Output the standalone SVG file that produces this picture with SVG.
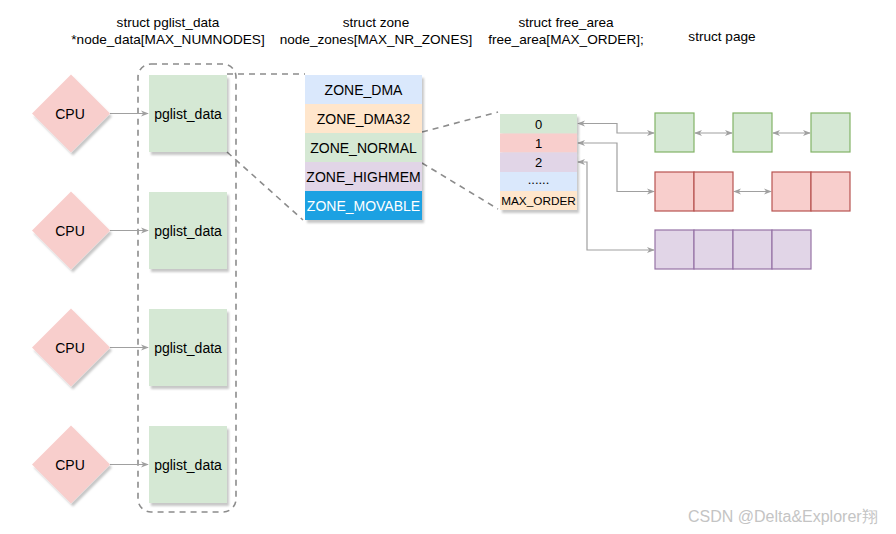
<svg xmlns="http://www.w3.org/2000/svg" width="896" height="534" viewBox="0 0 896 534">
<style>
text{font-family:"Liberation Sans",Arial,sans-serif;fill:#000;}
.t{font-size:13.6px;text-anchor:middle;}
.lbl{font-size:14px;text-anchor:middle;dominant-baseline:central;}
.sm{font-size:13px;text-anchor:middle;dominant-baseline:central;}
.cpu{fill:#f8cecc;stroke:none;}
.pg{fill:#d5e8d4;stroke:none;}
.dash{fill:none;stroke:#8c8c8c;stroke-width:1.6;stroke-dasharray:6 5;}
.conn{fill:none;stroke:#a0a0a0;stroke-width:1.2;}
.g{fill:#d5e8d4;stroke:#82b366;stroke-width:1.2;}
.r{fill:#f8cecc;stroke:#b85450;stroke-width:1.2;}
.p{fill:#e1d5e7;stroke:#9673a6;stroke-width:1.2;}
</style>
<defs>
<filter id="sh" x="-20%" y="-20%" width="140%" height="140%">
<feDropShadow dx="2" dy="3" stdDeviation="1" flood-color="#000" flood-opacity="0.22"/>
</filter>
<marker id="ah" viewBox="0 0 10 10" refX="9" refY="5" markerWidth="8" markerHeight="8" orient="auto-start-reverse" markerUnits="userSpaceOnUse">
<path d="M0,1 L10,5 L0,9 L3,5 z" fill="#a0a0a0"/>
</marker>
</defs>
<rect width="896" height="534" fill="#fff"/>

<g id="titles">
<text class="t" x="168" y="27">struct pglist_data</text>
<text class="t" x="168" y="44">*node_data[MAX_NUMNODES]</text>
<text class="t" x="376" y="27">struct zone</text>
<text class="t" x="376" y="44">node_zones[MAX_NR_ZONES]</text>
<text class="t" x="566" y="27">struct free_area</text>
<text class="t" x="566" y="44">free_area[MAX_ORDER];</text>
<text class="t" x="722" y="41">struct page</text>
</g>

<g id="container">
<rect class="dash" x="138" y="64" width="98" height="448" rx="13" ry="13"/>
</g>

<g id="connectors">
<line class="conn" x1="110" y1="113.5" x2="148" y2="113.5" marker-end="url(#ah)"/>
<line class="conn" x1="110" y1="230.5" x2="148" y2="230.5" marker-end="url(#ah)"/>
<line class="conn" x1="110" y1="347.5" x2="148" y2="347.5" marker-end="url(#ah)"/>
<line class="conn" x1="110" y1="464.5" x2="148" y2="464.5" marker-end="url(#ah)"/>
<line class="dash" x1="227" y1="74" x2="305" y2="74"/>
<line class="dash" x1="227" y1="152" x2="303" y2="220"/>
<line class="dash" x1="422" y1="132" x2="498" y2="112"/>
<line class="dash" x1="422" y1="163" x2="498" y2="209"/>
<path class="conn" d="M578,123.5 H617 V133 H654" marker-start="url(#ah)" marker-end="url(#ah)"/>
<path class="conn" d="M578,143 H617 V191.5 H654" marker-start="url(#ah)" marker-end="url(#ah)"/>
<path class="conn" d="M578,162 H587 V250 H654" marker-start="url(#ah)" marker-end="url(#ah)"/>
<line class="conn" x1="695" y1="133" x2="732" y2="133" marker-start="url(#ah)" marker-end="url(#ah)"/>
<line class="conn" x1="773" y1="133" x2="810" y2="133" marker-start="url(#ah)" marker-end="url(#ah)"/>
<line class="conn" x1="734" y1="191.5" x2="771" y2="191.5" marker-start="url(#ah)" marker-end="url(#ah)"/>
</g>

<g id="cpu1"><path class="cpu" filter="url(#sh)" d="M71,74.5 L110,113.5 L71,152.5 L32,113.5 z"/><text class="lbl" x="70" y="113.5">CPU</text></g>
<g id="cpu2"><path class="cpu" filter="url(#sh)" d="M71,191.5 L110,230.5 L71,269.5 L32,230.5 z"/><text class="lbl" x="70" y="230.5">CPU</text></g>
<g id="cpu3"><path class="cpu" filter="url(#sh)" d="M71,308.5 L110,347.5 L71,386.5 L32,347.5 z"/><text class="lbl" x="70" y="347.5">CPU</text></g>
<g id="cpu4"><path class="cpu" filter="url(#sh)" d="M71,425.5 L110,464.5 L71,503.5 L32,464.5 z"/><text class="lbl" x="70" y="464.5">CPU</text></g>

<g id="pglist1"><rect class="pg" filter="url(#sh)" x="149" y="75" width="78" height="77"/><text class="lbl" x="188" y="113.5">pglist_data</text></g>
<g id="pglist2"><rect class="pg" filter="url(#sh)" x="149" y="192" width="78" height="77"/><text class="lbl" x="188" y="230.5">pglist_data</text></g>
<g id="pglist3"><rect class="pg" filter="url(#sh)" x="149" y="309" width="78" height="77"/><text class="lbl" x="188" y="347.5">pglist_data</text></g>
<g id="pglist4"><rect class="pg" filter="url(#sh)" x="149" y="426" width="78" height="77"/><text class="lbl" x="188" y="464.5">pglist_data</text></g>

<g id="zones">
<g filter="url(#sh)">
<rect x="305" y="75" width="117" height="29" fill="#dae8fc"/>
<rect x="305" y="104" width="117" height="29" fill="#ffe6cc"/>
<rect x="305" y="133" width="117" height="29" fill="#d5e8d4"/>
<rect x="305" y="162" width="117" height="29" fill="#e1d5e7"/>
<rect x="305" y="191" width="117" height="29" fill="#1ba1e2"/>
</g>
<text class="lbl" x="363.5" y="89.5">ZONE_DMA</text>
<text class="lbl" x="363.5" y="118.5">ZONE_DMA32</text>
<text class="lbl" x="363.5" y="147.5">ZONE_NORMAL</text>
<text class="lbl" x="363.5" y="176.5">ZONE_HIGHMEM</text>
<text class="lbl" x="363.5" y="205.5" style="fill:#fff">ZONE_MOVABLE</text>
</g>

<g id="free_area">
<g filter="url(#sh)">
<rect x="500" y="114" width="77" height="19.5" fill="#d5e8d4"/>
<rect x="500" y="133.5" width="77" height="19" fill="#f8cecc"/>
<rect x="500" y="152.5" width="77" height="19.5" fill="#e1d5e7"/>
<rect x="500" y="172" width="77" height="19" fill="#dae8fc"/>
<rect x="500" y="191" width="77" height="19" fill="#ffe6cc"/>
</g>
<text class="sm" x="538.5" y="124">0</text>
<text class="sm" x="538.5" y="143">1</text>
<text class="sm" x="538.5" y="162.5">2</text>
<text class="sm" x="538.5" y="179">......</text>
<text class="lbl" x="538.5" y="200.5" style="font-size:11.8px">MAX_ORDER</text>
</g>

<g id="pages_green">
<rect class="g" x="655" y="113" width="39" height="39"/>
<rect class="g" x="733" y="113" width="39" height="39"/>
<rect class="g" x="811" y="113" width="39" height="39"/>
</g>
<g id="pages_red">
<rect class="r" x="655" y="172" width="39" height="39"/>
<rect class="r" x="694" y="172" width="39" height="39"/>
<rect class="r" x="772" y="172" width="39" height="39"/>
<rect class="r" x="811" y="172" width="39" height="39"/>
</g>
<g id="pages_purple">
<rect class="p" x="655" y="230" width="39" height="39"/>
<rect class="p" x="694" y="230" width="39" height="39"/>
<rect class="p" x="733" y="230" width="39" height="39"/>
<rect class="p" x="772" y="230" width="39" height="39"/>
</g>

<g id="watermark">
<text x="688" y="522" style="font-size:16px;fill:#c4c4c4">CSDN @Delta&amp;Explorer翔</text>
</g>
</svg>
